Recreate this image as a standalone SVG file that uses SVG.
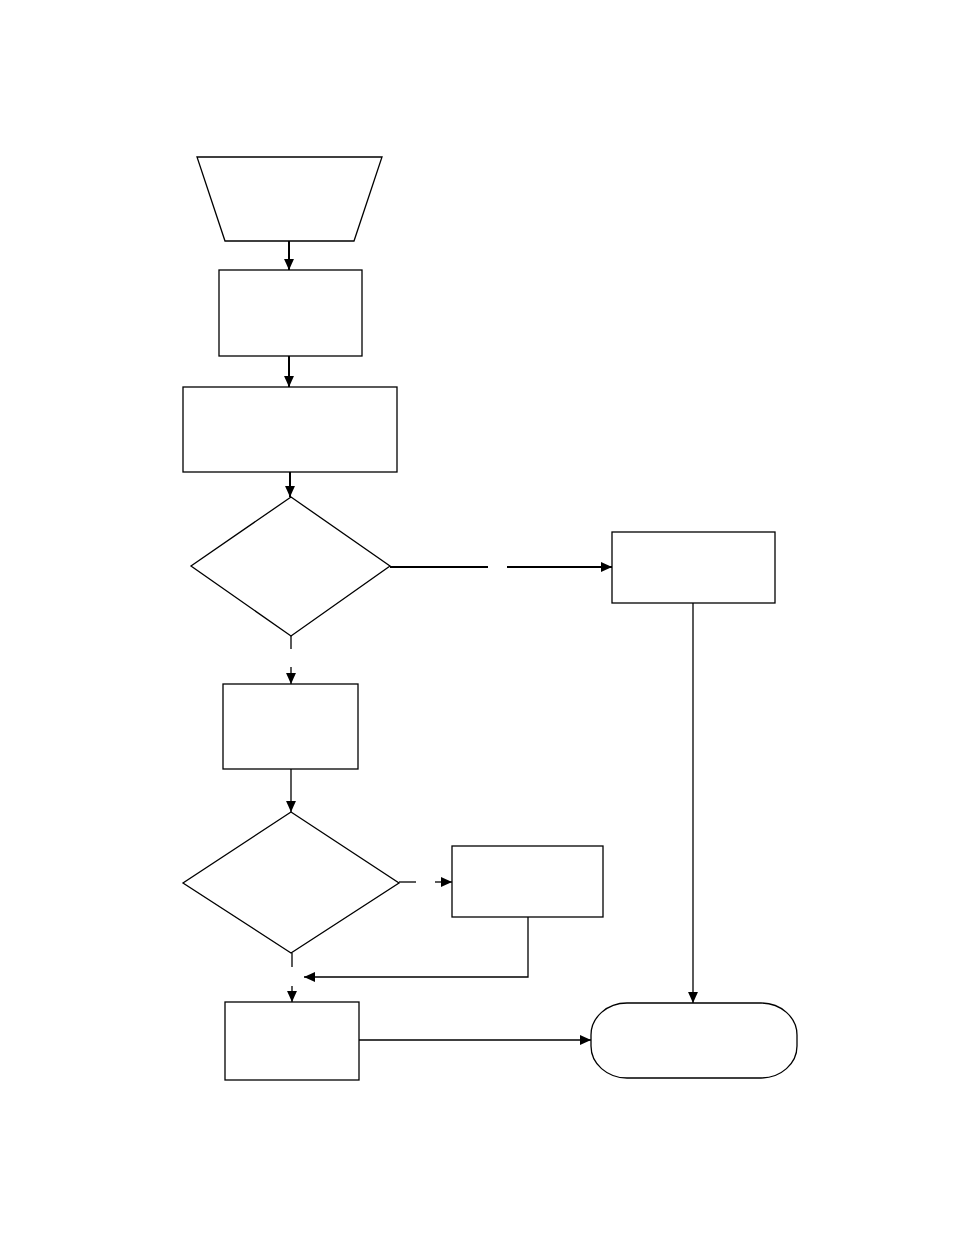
<svg xmlns="http://www.w3.org/2000/svg" width="954" height="1235" viewBox="0 0 954 1235">
<style>
.n{fill:#fff;stroke:#000;stroke-width:1.3}
.c{fill:none;stroke:#000;stroke-width:1.3}
.t{stroke-width:2}
</style>
<defs>
<marker id="a" viewBox="0 0 10 10" refX="10" refY="5" markerWidth="11" markerHeight="11" markerUnits="userSpaceOnUse" orient="auto">
<path d="M0,0.5 L10,5 L0,9.5 Z" fill="#000"/>
</marker>
</defs>
<rect width="954" height="1235" fill="#fff"/>
<g id="input"><polygon class="n" points="197,157 382,157 354,241 225,241"/></g>
<g id="box1"><rect class="n" x="219" y="270" width="143" height="86"/></g>
<g id="box2"><rect class="n" x="183" y="387" width="214" height="85"/></g>
<g id="decision1"><polygon class="n" points="291,497 390,566 291,636 191,566"/></g>
<g id="box3"><rect class="n" x="223" y="684" width="135" height="85"/></g>
<g id="box4"><rect class="n" x="612" y="532" width="163" height="71"/></g>
<g id="decision2"><polygon class="n" points="291,812 399,883 291,953 183,883"/></g>
<g id="box5"><rect class="n" x="452" y="846" width="151" height="71"/></g>
<g id="box6"><rect class="n" x="225" y="1002" width="134" height="78"/></g>
<g id="end"><rect class="n" x="591" y="1003" width="206" height="75" rx="36" ry="32"/></g>
<g id="connectors">
<line class="c t" x1="289" y1="241" x2="289" y2="270" marker-end="url(#a)"/>
<line class="c t" x1="289" y1="356" x2="289" y2="387" marker-end="url(#a)"/>
<line class="c t" x1="290" y1="472" x2="290" y2="497" marker-end="url(#a)"/>
<line class="c t" x1="390" y1="567" x2="488" y2="567"/>
<line class="c t" x1="507" y1="567" x2="612" y2="567" marker-end="url(#a)"/>
<line class="c" x1="291" y1="636" x2="291" y2="649"/>
<line class="c" x1="291" y1="667" x2="291" y2="684" marker-end="url(#a)"/>
<line class="c" x1="693" y1="603" x2="693" y2="1003" marker-end="url(#a)"/>
<line class="c" x1="291" y1="769" x2="291" y2="812" marker-end="url(#a)"/>
<line class="c" x1="399" y1="882" x2="416" y2="882"/>
<line class="c" x1="435" y1="882" x2="452" y2="882" marker-end="url(#a)"/>
<polyline class="c" points="528,917 528,977 304,977" marker-end="url(#a)"/>
<line class="c" x1="292" y1="953" x2="292" y2="967"/>
<line class="c" x1="292" y1="986" x2="292" y2="1002" marker-end="url(#a)"/>
<line class="c" x1="359" y1="1040" x2="591" y2="1040" marker-end="url(#a)"/>
</g>
</svg>
